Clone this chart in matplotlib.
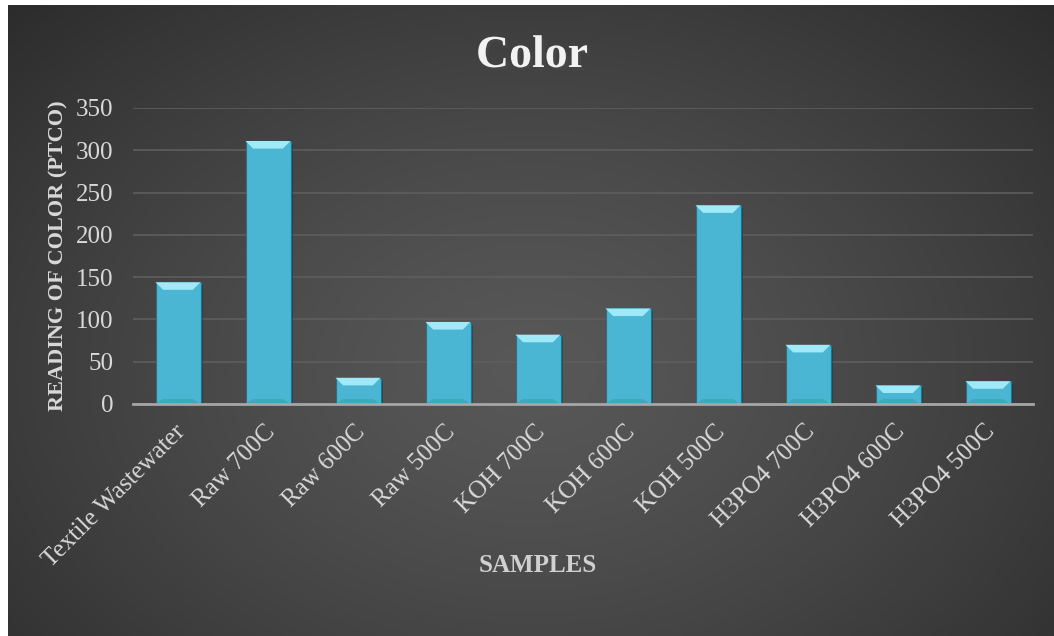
import numpy as np
import matplotlib.pyplot as plt
from matplotlib.patches import Polygon
import matplotlib.patheffects as pe
import matplotlib.transforms as mtransforms

samples = ['Textile Wastewater', 'Raw 700C', 'Raw 600C', 'Raw 500C', 'KOH 700C',
           'KOH 600C', 'KOH 500C', 'H3PO4 700C', 'H3PO4 600C', 'H3PO4 500C']
color_ptco = [144, 311, 31, 97, 82, 113, 235, 70, 22, 27]

plt.rcParams['font.family'] = ['Liberation Serif', 'DejaVu Serif']

fig = plt.figure(figsize=(10.54, 6.36), dpi=100, facecolor='white')

# radial gradient background (dark chart area)
bg = fig.add_axes([8 / 1054, 0, 1 - 8 / 1054, 1 - 5 / 636], zorder=-10)
yy, xx = np.mgrid[0:1:400j, 0:1:700j]
r = np.sqrt(((xx - 0.5) / 0.75) ** 2 + ((yy - 0.42) / 0.9) ** 2)
shade = 0.345 - 0.19 * np.clip(r, 0, 1) ** 1.3
bg.imshow(np.dstack([shade] * 3), aspect='auto', extent=[0, 1, 0, 1], origin='lower')
bg.axis('off')

ax = fig.add_axes([133 / 1054, 232 / 636, 900 / 1054, 296 / 636])
ax.set_facecolor('none')

x = np.arange(len(samples))
bar_w = 0.5
bars = ax.bar(x, color_ptco, width=bar_w, color='#4ab6d3', edgecolor='#2a6f82',
              linewidth=0.8, zorder=3,
              path_effects=[pe.SimplePatchShadow(offset=(2, -2), alpha=0.5), pe.Normal()])

# bevel highlight on top of each bar
bev_h = 9.0
bev_x = 0.085
for b in bars:
    x0, w, h = b.get_x(), b.get_width(), b.get_height()
    hh = min(bev_h, h / 2)
    top = Polygon([(x0, h), (x0 + w, h), (x0 + w - bev_x, h - hh), (x0 + bev_x, h - hh)],
                  closed=True, facecolor='#9fe9f8', edgecolor='none', zorder=4)
    ax.add_patch(top)
    bot = Polygon([(x0, 0), (x0 + w, 0), (x0 + w - bev_x, min(6, h / 3)), (x0 + bev_x, min(6, h / 3))],
                  closed=True, facecolor='#3fa7c2', edgecolor='none', zorder=4)
    ax.add_patch(bot)

ax.set_xlim(-0.5, len(samples) - 0.5)
ax.set_ylim(0, 350)
ax.set_yticks(np.arange(0, 351, 50))
ax.yaxis.grid(True, color='#5e5e5e', linewidth=1.2, zorder=0)
ax.set_axisbelow(True)
for s in ['top', 'right', 'left']:
    ax.spines[s].set_visible(False)
ax.spines['bottom'].set_color('#a6a6a6')
ax.spines['bottom'].set_linewidth(2)
ax.spines['bottom'].set_zorder(5)
ax.tick_params(axis='both', length=0, colors='#d9d9d9', labelsize=18)
ax.tick_params(axis='y', pad=14)
ax.tick_params(axis='x', pad=12)
ax.set_xticks(x)
ax.set_xticklabels(samples, rotation=45, ha='right', rotation_mode='anchor', fontsize=18)
shift = mtransforms.ScaledTranslation(-4 / 100, 0, fig.dpi_scale_trans)
for lbl in ax.get_xticklabels():
    lbl.set_transform(lbl.get_transform() + shift)

ax.set_ylabel('READING OF COLOR (PTCO)', fontsize=16, fontweight='bold', color='#d9d9d9')
ax.yaxis.set_label_coords(-0.072, 0.5)

fig.text(538 / 1054, 1 - 572 / 636, 'SAMPLES', ha='center', va='baseline', fontsize=18,
         fontweight='bold', color='#d0d0d0')

fig.text(532 / 1054, 1 - 67 / 636, 'Color', ha='center', va='baseline', fontsize=33, fontweight='bold',
         color='#f2f2f2', path_effects=[pe.withSimplePatchShadow(offset=(2, -2), alpha=0.6)])

fig.savefig('out.png', dpi=100, facecolor=fig.get_facecolor())
